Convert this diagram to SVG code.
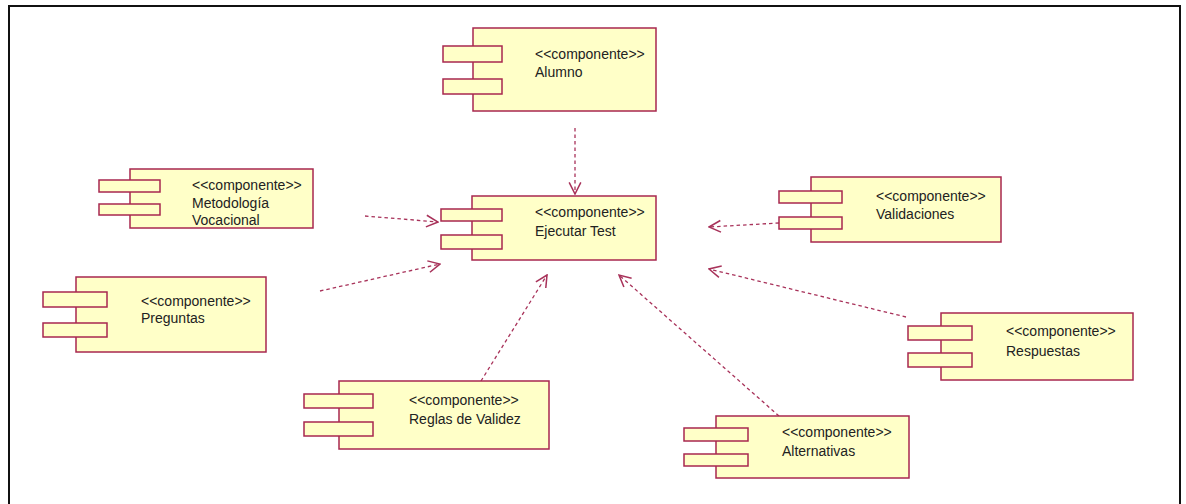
<svg xmlns="http://www.w3.org/2000/svg" width="1186" height="504" viewBox="0 0 1186 504">
<style>
.body{fill:#FFFFC8;stroke:#A8274F;stroke-width:1.5}
.port{fill:#FFFFC8;stroke:#A8274F;stroke-width:1.5}
.t{font-family:"Liberation Sans",Arial,sans-serif;font-size:14px;fill:#222}
.dep{fill:none;stroke:#A8325A;stroke-width:1.3;stroke-dasharray:3.5 3}
</style>
<defs>
<marker id="open" markerUnits="userSpaceOnUse" markerWidth="14" markerHeight="14" viewBox="0 0 12 12" refX="11" refY="6" orient="auto">
<path d="M1,1 L11,6 L1,11" fill="none" stroke="#A8325A" stroke-width="1.3"/>
</marker>
</defs>
<rect x="0" y="0" width="1186" height="504" fill="#fff"/>
<path d="M9,510 L9,6 L1180,6 L1180,510" fill="none" stroke="#111" stroke-width="2"/>

<g id="connectors">
<line class="dep" x1="575" y1="128" x2="575" y2="194" marker-end="url(#open)"/>
<line class="dep" x1="365" y1="216" x2="438" y2="222" marker-end="url(#open)"/>
<line class="dep" x1="320" y1="291" x2="440" y2="264" marker-end="url(#open)"/>
<line class="dep" x1="481" y1="381" x2="547" y2="275" marker-end="url(#open)"/>
<line class="dep" x1="779" y1="416" x2="619" y2="275" marker-end="url(#open)"/>
<line class="dep" x1="906" y1="317" x2="709" y2="269" marker-end="url(#open)"/>
<line class="dep" x1="779" y1="223" x2="709" y2="227" marker-end="url(#open)"/>
</g>

<g id="alumno">
<rect class="body" x="473" y="28" width="183" height="83"/>
<rect class="port" x="443" y="46" width="59" height="16"/>
<rect class="port" x="443" y="79" width="59" height="15"/>
<text class="t" x="535" y="59">&lt;&lt;componente&gt;&gt;</text>
<text class="t" x="535" y="77">Alumno</text>
</g>

<g id="ejecutar-test">
<rect class="body" x="472" y="196" width="184" height="64"/>
<rect class="port" x="441" y="209" width="61" height="12"/>
<rect class="port" x="441" y="235" width="61" height="14"/>
<text class="t" x="535" y="217">&lt;&lt;componente&gt;&gt;</text>
<text class="t" x="535" y="236">Ejecutar Test</text>
</g>

<g id="metodologia">
<rect class="body" x="130" y="169" width="183" height="59"/>
<rect class="port" x="99" y="180" width="61" height="12"/>
<rect class="port" x="99" y="204" width="61" height="11"/>
<text class="t" x="192" y="190">&lt;&lt;componente&gt;&gt;</text>
<text class="t" x="192" y="208">Metodología</text>
<text class="t" x="192" y="225">Vocacional</text>
</g>

<g id="preguntas">
<rect class="body" x="76" y="277" width="190" height="75"/>
<rect class="port" x="43" y="292" width="64" height="15"/>
<rect class="port" x="43" y="323" width="64" height="14"/>
<text class="t" x="141" y="306">&lt;&lt;componente&gt;&gt;</text>
<text class="t" x="141" y="323">Preguntas</text>
</g>

<g id="validaciones">
<rect class="body" x="811" y="177" width="190" height="65"/>
<rect class="port" x="779" y="191" width="63" height="12"/>
<rect class="port" x="779" y="217" width="63" height="12"/>
<text class="t" x="876" y="201">&lt;&lt;componente&gt;&gt;</text>
<text class="t" x="876" y="219">Validaciones</text>
</g>

<g id="respuestas">
<rect class="body" x="941" y="313" width="192" height="67"/>
<rect class="port" x="908" y="326" width="64" height="14"/>
<rect class="port" x="908" y="353" width="64" height="14"/>
<text class="t" x="1006" y="336">&lt;&lt;componente&gt;&gt;</text>
<text class="t" x="1006" y="356">Respuestas</text>
</g>

<g id="reglas-de-validez">
<rect class="body" x="339" y="381" width="210" height="68"/>
<rect class="port" x="304" y="394" width="69" height="14"/>
<rect class="port" x="304" y="422" width="69" height="14"/>
<text class="t" x="409" y="405">&lt;&lt;componente&gt;&gt;</text>
<text class="t" x="409" y="424">Reglas de Validez</text>
</g>

<g id="alternativas">
<rect class="body" x="716" y="416" width="193" height="62"/>
<rect class="port" x="684" y="428" width="64" height="13"/>
<rect class="port" x="684" y="454" width="64" height="12"/>
<text class="t" x="782" y="437">&lt;&lt;componente&gt;&gt;</text>
<text class="t" x="782" y="456">Alternativas</text>
</g>
</svg>
